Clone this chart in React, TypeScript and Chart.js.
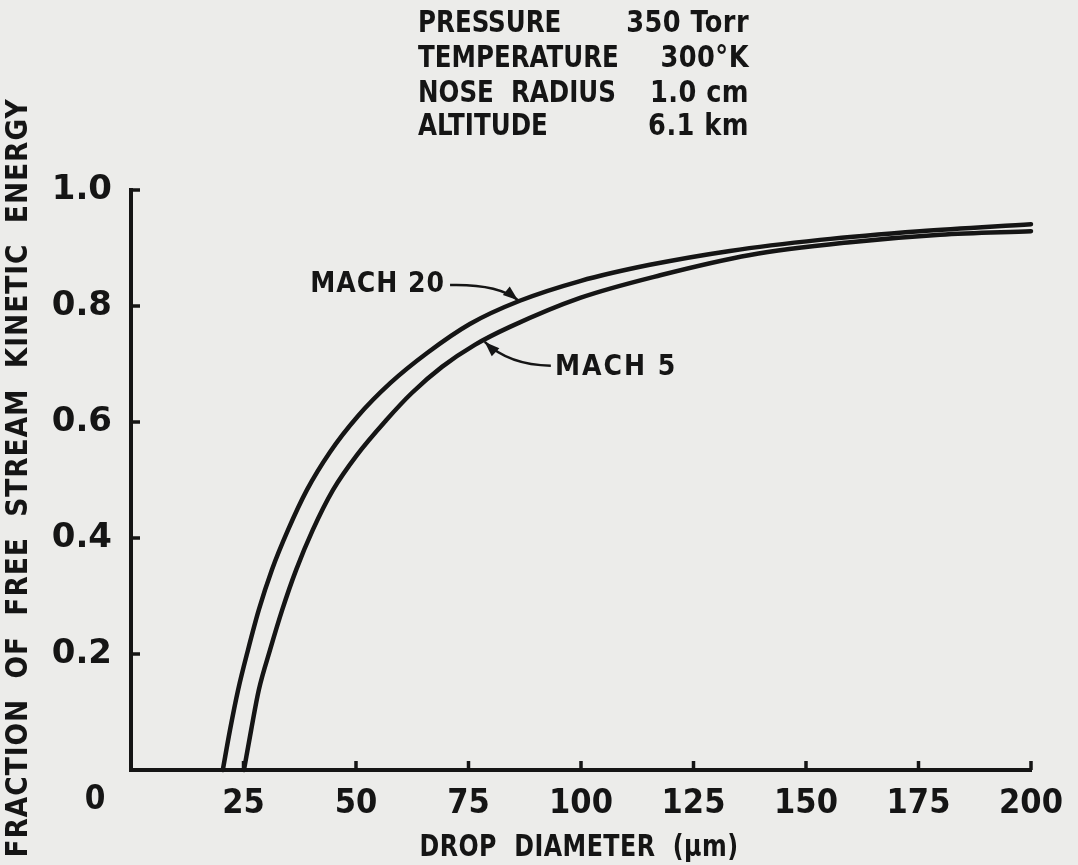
import React, { useEffect, useRef } from "react";
import { Chart, registerables } from "chart.js";

Chart.register(...registerables);

// ---- data ----
const xTickValues = [0, 25, 50, 75, 100, 125, 150, 175, 200];
const xTickLabels = ["0", "25", "50", "75", "100", "125", "150", "175", "200"];
const yTickValues = [0.2, 0.4, 0.6, 0.8, 1.0];
const yTickLabels = ["0.2", "0.4", "0.6", "0.8", "1.0"];

const mach20X = [20.4, 22.0, 23.8, 26.0, 28.4, 31.3, 34.9, 39.1, 44.2, 50.4, 57.6, 65.8, 75.3, 86.4, 99.8, 115.3, 133.1, 153.1, 175.3, 200];
const mach20Y = [0, 0.069, 0.138, 0.207, 0.276, 0.345, 0.414, 0.483, 0.548, 0.61, 0.667, 0.719, 0.769, 0.809, 0.843, 0.871, 0.895, 0.914, 0.929, 0.941];

const mach5X = [25.1, 26.7, 28.4, 30.9, 33.6, 36.7, 40.4, 44.9, 50.2, 56.7, 62.4, 69.1, 76.4, 84.2, 99.8, 117.6, 137.6, 159.8, 179.8, 200];
const mach5Y = [0, 0.069, 0.138, 0.207, 0.276, 0.345, 0.414, 0.483, 0.543, 0.603, 0.65, 0.695, 0.733, 0.764, 0.814, 0.853, 0.888, 0.91, 0.923, 0.929];

const headerLabels = ["PRESSURE", "TEMPERATURE", "NOSE  RADIUS", "ALTITUDE"];
const headerValues = ["350 Torr", "300°K", "1.0 cm", "6.1 km"];

const xTitle = "DROP  DIAMETER  (\u00b5m)";
const yTitle = "FRACTION  OF  FREE  STREAM  KINETIC  ENERGY";

// annotation anchors in data units
const mach20Label = { text: "MACH 20", x: 69.8, y: 0.836 };
const mach20Arrow = [[70.9, 0.836], [81.5, 0.838], [86.0, 0.81]];
const mach5Label = { text: "MACH 5", x: 94.2, y: 0.693 };
const mach5Arrow = [[93.3, 0.697], [84.0, 0.698], [78.6, 0.738]];

const INK = "#151515";
const PAPER = "#ececea";
const FONT = "'DejaVu Sans Condensed', 'DejaVu Sans', sans-serif";
const WIDE_FONT = "'DejaVu Sans', sans-serif";

function drawText(ctx, str, x, y, align, size, spacing = 0, hScale = 1) {
  ctx.save();
  ctx.font = `bold ${size}px ${FONT}`;
  (ctx as any).letterSpacing = `${spacing}px`;
  ctx.textAlign = align;
  ctx.textBaseline = "middle";
  ctx.fillStyle = INK;
  ctx.translate(x, y);
  ctx.scale(hScale, 1);
  ctx.fillText(str, 0, 0);
  ctx.restore();
}

function drawArrow(ctx, xs, ys, pts) {
  const p = pts.map(([a, b]) => [xs.getPixelForValue(a), ys.getPixelForValue(b)]);
  ctx.save();
  ctx.strokeStyle = INK;
  ctx.fillStyle = INK;
  ctx.lineWidth = 2.5;
  ctx.beginPath();
  ctx.moveTo(p[0][0], p[0][1]);
  ctx.quadraticCurveTo(p[1][0], p[1][1], p[2][0], p[2][1]);
  ctx.stroke();
  const ang = Math.atan2(p[2][1] - p[1][1], p[2][0] - p[1][0]);
  const L = 15, W = 5.5;
  ctx.translate(p[2][0], p[2][1]);
  ctx.rotate(ang);
  ctx.beginPath();
  ctx.moveTo(0, 0);
  ctx.lineTo(-L, -W);
  ctx.lineTo(-L, W);
  ctx.closePath();
  ctx.fill();
  ctx.restore();
}

const paperPlugin = {
  id: "paper",
  beforeDraw(chart) {
    const ctx = chart.ctx;
    ctx.save();
    ctx.fillStyle = PAPER;
    ctx.fillRect(0, 0, chart.width, chart.height);
    ctx.restore();
  },
  beforeDatasetsDraw(chart) {
    const { ctx, scales } = chart;
    const xs = scales.x, ys = scales.y;
    ctx.save();
    ctx.strokeStyle = INK;
    ctx.lineWidth = 3.5;
    xTickValues.forEach((v) => {
      if (v === 0) return;
      const px = xs.getPixelForValue(v);
      ctx.beginPath();
      ctx.moveTo(px, ys.bottom);
      ctx.lineTo(px, ys.bottom - 9);
      ctx.stroke();
    });
    yTickValues.forEach((v) => {
      const py = ys.getPixelForValue(v);
      ctx.beginPath();
      ctx.moveTo(xs.left, py);
      ctx.lineTo(xs.left + 9, py);
      ctx.stroke();
    });
    ctx.restore();
  },
  afterDraw(chart) {
    const { ctx, scales } = chart;
    const xs = scales.x, ys = scales.y;
    // origin label
    drawText(ctx, xTickLabels[0], xs.left - 36, ys.bottom + 30, "center", 33);
    // header block
    const rowY = [24, 59, 94, 127];
    headerLabels.forEach((t, i) => drawText(ctx, t, 418, rowY[i], "left", 31, 0, 0.88));
    headerValues.forEach((t, i) => drawText(ctx, t, 749, rowY[i], "right", 31, 0.5, 0.92));
    // axis titles
    drawText(ctx, xTitle, 579, 848, "center", 30, 0.5, 0.88);
    ctx.save();
    ctx.translate(19, 478);
    ctx.rotate(-Math.PI / 2);
    drawText(ctx, yTitle, 0, 0, "center", 30, 1, 0.98);
    ctx.restore();
    // annotations
    drawText(ctx, mach20Label.text, xs.getPixelForValue(mach20Label.x), ys.getPixelForValue(mach20Label.y), "right", 28, 1);
    drawText(ctx, mach5Label.text, xs.getPixelForValue(mach5Label.x), ys.getPixelForValue(mach5Label.y), "left", 28, 2);
    drawArrow(ctx, xs, ys, mach20Arrow);
    drawArrow(ctx, xs, ys, mach5Arrow);
  },
};

export default function App() {
  const ref = useRef<HTMLCanvasElement | null>(null);
  useEffect(() => {
    const canvas = ref.current;
    if (!canvas) return;
    const toPts = (xs: number[], ys: number[]) => xs.map((x, i) => ({ x, y: ys[i] }));
    const lineStyle = {
      showLine: true,
      borderColor: INK,
      borderWidth: 4.5,
      pointRadius: 0,
      cubicInterpolationMode: "monotone",
      borderCapStyle: "round",
      clip: false,
    };
    const chart = new Chart(canvas, {
      type: "scatter",
      data: {
        datasets: [
          { label: "MACH 20", data: toPts(mach20X, mach20Y), ...lineStyle },
          { label: "MACH 5", data: toPts(mach5X, mach5Y), ...lineStyle },
        ],
      },
      options: {
        responsive: false,
        animation: false,
        devicePixelRatio: 1,
        layout: { padding: { top: 190, right: 47, left: 0, bottom: 0 } },
        plugins: { legend: { display: false }, tooltip: { enabled: false } },
        scales: {
          x: {
            type: "linear",
            min: 0,
            max: 200,
            afterFit: (s) => { s.height = 95; },
            afterBuildTicks: (s) => { s.ticks = xTickValues.map((v) => ({ value: v })); },
            grid: { display: true, drawOnChartArea: false, drawTicks: false },
            border: { display: true, color: INK, width: 4 },
            ticks: {
              padding: 14,
              color: INK,
              font: { family: FONT, size: 34, weight: "bold" },
              maxRotation: 0,
              autoSkip: false,
              callback: (v) => {
                const i = xTickValues.indexOf(Number(v));
                return i <= 0 ? "" : xTickLabels[i];
              },
            },
          },
          y: {
            type: "linear",
            min: 0,
            max: 1,
            afterFit: (s) => { s.width = 131; },
            afterBuildTicks: (s) => { s.ticks = yTickValues.map((v) => ({ value: v })); },
            grid: { display: true, drawOnChartArea: false, drawTicks: false },
            border: { display: true, color: INK, width: 4 },
            ticks: {
              padding: 19,
              color: INK,
              font: { family: WIDE_FONT, size: 34, weight: "bold" },
              autoSkip: false,
              callback: (v) => {
                const i = yTickValues.findIndex((t) => Math.abs(t - Number(v)) < 1e-6);
                return i < 0 ? "" : yTickLabels[i];
              },
            },
          },
        },
      },
      plugins: [paperPlugin],
    });
    return () => chart.destroy();
  }, []);
  return (
    <div style={{ position: "fixed", left: 0, top: 0, width: 1078, height: 865, background: PAPER }}>
      <canvas ref={ref} width={1078} height={865} style={{ display: "block" }} />
    </div>
  );
}
